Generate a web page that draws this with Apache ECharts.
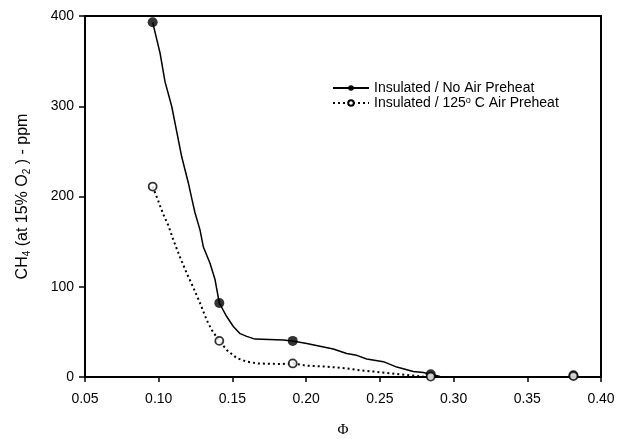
<!DOCTYPE html>
<html>
<head>
<meta charset="utf-8">
<script src="https://cdn.jsdelivr.net/npm/echarts@6/dist/echarts.min.js"></script>
<style>
html,body{margin:0;padding:0;background:#fff;}
#chart{width:622px;height:439px;}
</style>
</head>
<body>
<div id="chart"></div>
<script>
// Series names
const seriesNames = ['Insulated / No Air Preheat', 'Insulated / 125° C Air Preheat'];

// Measured points (markers)
const noPreheatPhi = [0.0959, 0.1411, 0.1909, 0.2845, 0.3813];
const noPreheatCH4 = [393, 82, 40, 3, 2];
const preheatPhi = [0.0959, 0.1411, 0.1909, 0.2845, 0.3813];
const preheatCH4 = [211, 40, 15, 0.5, 1];

// Fitted curves as drawn
const noPreheatCurvePhi = [0.0959, 0.1009, 0.1043, 0.1088, 0.1122, 0.1156, 0.1201, 0.1224, 0.1246, 0.1280, 0.1303, 0.1348, 0.1382, 0.1411, 0.1461, 0.1506, 0.1552, 0.1597, 0.1653, 0.1845, 0.1909, 0.2004, 0.2094, 0.2184, 0.2275, 0.2343, 0.2411, 0.2524, 0.2615, 0.2727, 0.2795, 0.2845, 0.2908, 0.2954];
const noPreheatCurveCH4 = [393, 359, 327, 300, 272, 244, 215, 198, 182, 163, 144, 126, 108, 82, 67, 56, 48, 45, 42, 41, 40, 37, 34, 31, 26, 24, 20, 17, 11, 6, 5, 3, 0.6, 0];
const preheatCurvePhi = [0.0959, 0.0995, 0.1029, 0.1065, 0.1099, 0.1144, 0.1190, 0.1235, 0.1280, 0.1326, 0.1360, 0.1411, 0.1461, 0.1529, 0.1597, 0.1676, 0.1823, 0.1909, 0.2004, 0.2140, 0.2275, 0.2343, 0.2456, 0.2569, 0.2682, 0.2795, 0.2845, 0.2908];
const preheatCurveCH4 = [211, 196, 181, 168, 152, 133, 115, 99, 82, 63, 52, 40, 30, 21, 17, 15, 14.4, 15, 12.5, 11.4, 9.6, 7.8, 6.1, 4.1, 2.2, 0.3, 0.5, 0];

// Axis ticks
const xTicks = [0.05, 0.10, 0.15, 0.20, 0.25, 0.30, 0.35, 0.40];
const yTicks = [0, 100, 200, 300, 400];

const zip = (a, b) => a.map((v, i) => [v, b[i]]);
const font = 'Liberation Sans, Arial, sans-serif';

const chart = echarts.init(document.getElementById('chart'), null, {renderer: 'canvas'});
chart.setOption({
  animation: false,
  backgroundColor: '#fff',
  grid: {left: 85, right: 21, top: 16, bottom: 62, outerBoundsMode: 'none', containLabel: false,
         show: true, borderColor: '#000', borderWidth: 2, backgroundColor: 'transparent'},
  legend: {
    left: 327, top: 76, orient: 'vertical', itemWidth: 36, itemHeight: 7, itemGap: 1,
    data: seriesNames,
    textStyle: {fontFamily: font, fontSize: 14, color: '#000', lineHeight: 14,
      rich: {sup: {fontSize: 9, verticalAlign: 'top', lineHeight: 14, padding: [0,0,7,0], fontFamily: font, color: '#000'}}},
    formatter: function (n) { return n.indexOf('125') >= 0 ? 'Insulated / 125{sup|o} C Air Preheat' : n; }
  },
  xAxis: {
    type: 'value', min: xTicks[0], max: xTicks[xTicks.length - 1], interval: 0.05,
    name: 'Φ', nameLocation: 'middle', nameGap: 46,
    nameTextStyle: {fontFamily: 'Liberation Serif, DejaVu Serif, serif', fontSize: 15, color: '#000'},
    axisLine: {lineStyle: {color: '#000', width: 2}},
    axisTick: {show: true, inside: false, length: 5, lineStyle: {color: '#000', width: 1.5}},
    axisLabel: {fontFamily: font, fontSize: 14, color: '#000', margin: 15, formatter: v => v.toFixed(2)},
    splitLine: {show: false}
  },
  yAxis: {
    type: 'value', min: yTicks[0], max: yTicks[yTicks.length - 1], interval: 100,
    name: 'CH{sub|4} (at 15% O{sub|2} ) - ppm', nameLocation: 'middle', nameGap: 53, nameRotate: 90,
    nameTextStyle: {fontFamily: font, fontSize: 16, color: '#000',
      rich: {sub: {fontSize: 10, verticalAlign: 'bottom', padding: [8,0,0,0], fontFamily: font, color: '#000'}}},
    axisLine: {show: true, lineStyle: {color: '#000', width: 2}},
    axisTick: {show: true, inside: false, length: 6, lineStyle: {color: '#000', width: 1.5}},
    axisLabel: {fontFamily: font, fontSize: 14, color: '#000', margin: 11},
    splitLine: {show: false}
  },
  series: [
    {name: seriesNames[0], type: 'line', data: zip(noPreheatCurvePhi, noPreheatCurveCH4),
     showSymbol: false, symbol: 'circle', color: '#000',
     lineStyle: {color: '#000', width: 1.5, type: 'solid'}, itemStyle: {color: '#000'}, z: 2},
    {name: seriesNames[1], type: 'line', data: zip(preheatCurvePhi, preheatCurveCH4),
     showSymbol: false, symbol: 'emptyCircle', color: '#000',
     lineStyle: {color: '#000', width: 2, type: [2, 3]}, itemStyle: {color: '#000'}, z: 2},
    {name: 'pts1', type: 'scatter', data: zip(noPreheatPhi, noPreheatCH4),
     symbol: 'circle', symbolSize: 10, itemStyle: {color: '#000'}, z: 3},
    {name: 'pts2', type: 'scatter', data: zip(preheatPhi, preheatCH4),
     symbol: 'circle', symbolSize: 8, itemStyle: {color: '#fff', borderColor: '#000', borderWidth: 1.8}, z: 4}
  ]
});
</script>
</body>
</html>
